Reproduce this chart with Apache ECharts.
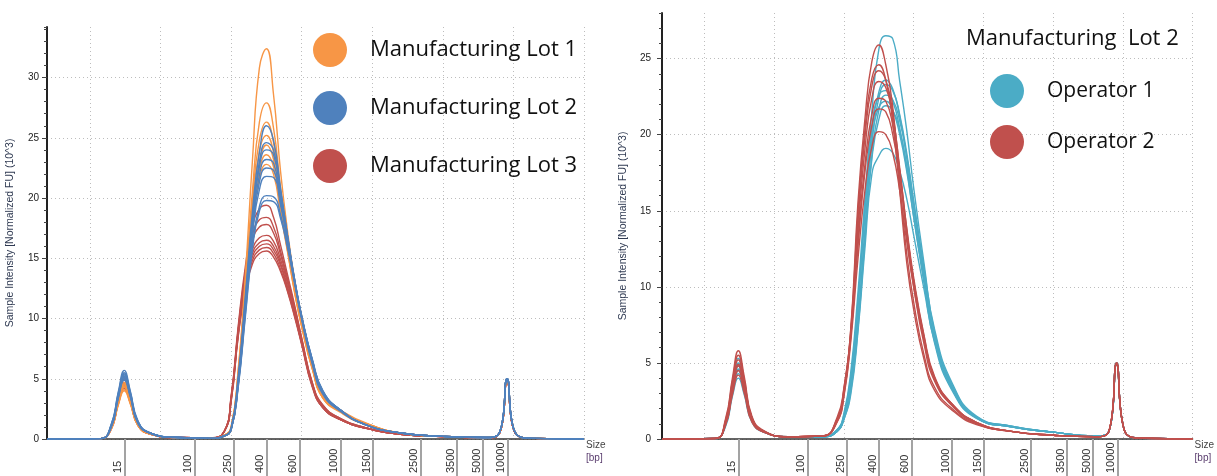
<!DOCTYPE html>
<html><head><meta charset="utf-8">
<script src="https://cdn.jsdelivr.net/npm/echarts@6/dist/echarts.min.js"></script>
<style>html,body{margin:0;padding:0;background:#fff}#c{width:1217px;height:476px}</style>
</head><body><div id="c"></div>
<script>
// migration position (arbitrary run units; vertical grid lines every 10)
const xs = [-6.1, 1.5, 3.0, 4.0, 4.85, 5.7, 6.8, 8.5, 12, 17, 19, 20, 21, 22, 23, 24, 25, 26, 27, 28, 29, 30, 31.5, 33, 35.5, 39, 44, 50, 56, 58, 59.1, 60.2, 63, 70];
// ladder sizes and where they sit on the run axis
const sizeLabels = ['15','100','250','400','600','1000','1500','2500','3500','5000','10000'];
const sizePos = [4.85, 14.8, 20.4, 25.0, 29.7, 35.5, 40.1, 46.8, 52.0, 55.7, 59.2];
const gridPos = [0, 10, 20, 30, 40, 50, 60, 70];
const leftYTicks = [0, 5, 10, 15, 20, 25, 30];
const rightYTicks = [0, 5, 10, 15, 20, 25];

// Left panel: Manufacturing Lot 1 (orange)
const lot1 = [
 [0,0.03,0.9,3.0,4.3,3.1,1.2,0.45,0.12,0.05,0.3,1.0,5.8,13.5,23.0,30.8,32.4,28.6,22.2,17.2,13.2,10.2,6.4,3.8,2.4,1.3,0.5,0.22,0.12,0.5,4.9,0.6,0.05,0],
 [0,0.03,1.0,3.2,4.6,3.3,1.2,0.45,0.12,0.05,0.3,1.0,5.6,12.8,20.5,26.3,27.9,25.8,20.8,16.6,12.8,9.8,6.1,3.6,2.3,1.25,0.5,0.22,0.12,0.5,4.9,0.6,0.05,0],
 [0,0.03,0.9,2.9,4.1,3.0,1.1,0.4,0.12,0.05,0.25,0.9,5.4,12.4,19.8,24.8,26.3,24.6,20.2,16.2,12.6,9.6,6.0,3.5,2.3,1.3,0.5,0.22,0.12,0.5,5.0,0.6,0.05,0],
 [0,0.03,1.0,3.3,4.7,3.4,1.3,0.45,0.12,0.05,0.3,1.0,5.3,12.2,19.2,23.9,25.2,23.8,19.6,15.9,12.4,9.5,5.9,3.5,2.4,1.35,0.5,0.22,0.12,0.5,4.8,0.6,0.05,0],
 [0,0.03,0.8,2.8,4.0,2.9,1.1,0.4,0.12,0.05,0.25,0.8,5.0,11.8,18.6,23.0,24.4,23.2,19.4,15.8,12.3,9.4,5.9,3.4,2.3,1.3,0.5,0.22,0.12,0.45,4.9,0.6,0.05,0],
 [0,0.03,0.9,3.1,4.4,3.2,1.2,0.45,0.12,0.05,0.25,0.8,4.8,11.5,18.0,22.3,23.6,22.6,19.0,15.6,12.2,9.3,5.8,3.4,2.2,1.2,0.5,0.22,0.12,0.5,5.0,0.6,0.05,0],
 [0,0.03,1.0,3.2,4.5,3.2,1.2,0.45,0.12,0.05,0.25,0.8,4.6,11.2,17.5,21.6,22.8,22.0,18.7,15.5,12.1,9.3,5.8,3.4,2.3,1.3,0.5,0.22,0.12,0.5,4.9,0.6,0.05,0]
];
// Manufacturing Lot 2 (blue)
const lot2 = [
 [0,0.03,1.2,3.9,5.7,4.0,1.5,0.5,0.14,0.05,0.25,0.9,5.2,11.8,18.8,23.8,26.0,24.8,20.8,16.8,13.0,9.9,6.2,3.7,2.3,1.2,0.5,0.22,0.12,0.5,5.0,0.6,0.05,0],
 [0,0.03,1.1,3.7,5.4,3.8,1.4,0.5,0.14,0.05,0.25,0.9,5.0,11.5,18.2,23.0,24.6,24.0,20.6,16.8,13.1,10.0,6.3,3.8,2.3,1.2,0.5,0.22,0.12,0.5,5.0,0.6,0.05,0],
 [0,0.03,1.1,3.6,5.2,3.7,1.4,0.5,0.14,0.05,0.25,0.8,4.9,11.3,17.9,22.6,24.0,23.6,20.4,16.8,13.2,10.1,6.4,3.8,2.4,1.2,0.5,0.22,0.12,0.5,5.0,0.6,0.05,0],
 [0,0.03,1.0,3.4,5.0,3.6,1.3,0.5,0.13,0.05,0.25,0.8,4.8,11.0,17.5,21.9,23.2,22.9,20.0,16.6,13.2,10.2,6.5,3.9,2.4,1.2,0.5,0.22,0.12,0.5,5.0,0.6,0.05,0],
 [0,0.03,1.2,3.8,5.5,3.9,1.4,0.5,0.14,0.05,0.25,0.8,4.6,10.8,17.1,21.3,22.5,22.3,19.7,16.5,13.1,10.1,6.5,3.9,2.4,1.2,0.5,0.22,0.12,0.5,5.0,0.6,0.05,0],
 [0,0.03,1.0,3.5,5.1,3.6,1.3,0.5,0.13,0.05,0.25,0.8,4.5,10.6,16.8,20.7,21.8,21.7,19.4,16.4,13.1,10.2,6.6,4.0,2.4,1.2,0.5,0.22,0.12,0.5,5.0,0.6,0.05,0],
 [0,0.03,1.1,3.6,5.3,3.7,1.4,0.5,0.14,0.05,0.25,0.8,4.4,10.3,16.0,19.3,20.2,20.1,18.6,16.0,13.0,10.1,6.6,4.0,2.4,1.2,0.5,0.22,0.12,0.5,5.0,0.6,0.05,0],
 [0,0.03,1.0,3.4,4.9,3.5,1.3,0.5,0.13,0.05,0.25,0.8,4.3,10.1,15.7,18.9,19.8,19.7,18.3,15.8,12.9,10.0,6.5,3.9,2.4,1.2,0.5,0.22,0.12,0.5,5.0,0.6,0.05,0]
];
// Manufacturing Lot 3 (red)
const lot3 = [
 [0,0.03,1.0,3.3,4.9,3.5,1.3,0.45,0.13,0.1,0.6,3.6,9.4,14.3,17.6,19.1,19.4,18.4,16.1,13.6,11.1,8.4,4.7,2.8,1.7,0.95,0.4,0.2,0.1,0.45,4.8,0.55,0.05,0],
 [0,0.03,0.9,3.1,4.6,3.3,1.2,0.45,0.13,0.1,0.6,3.5,9.2,13.9,16.9,18.2,18.4,17.6,15.6,13.3,10.9,8.3,4.6,2.8,1.7,0.95,0.4,0.2,0.1,0.45,4.8,0.55,0.05,0],
 [0,0.03,1.0,3.4,5.0,3.5,1.3,0.45,0.13,0.1,0.6,3.4,9.0,13.6,16.4,17.6,17.8,17.1,15.3,13.1,10.8,8.2,4.6,2.7,1.7,0.95,0.4,0.2,0.1,0.45,4.8,0.55,0.05,0],
 [0,0.03,0.9,3.0,4.4,3.1,1.2,0.4,0.12,0.1,0.6,3.4,9.0,13.3,15.7,16.7,16.9,16.4,14.9,12.9,10.6,8.1,4.5,2.7,1.6,0.9,0.4,0.2,0.1,0.45,4.8,0.55,0.05,0],
 [0,0.03,1.0,3.2,4.7,3.3,1.2,0.45,0.13,0.1,0.6,3.3,8.8,13.0,15.4,16.3,16.5,16.0,14.6,12.6,10.4,8.0,4.5,2.7,1.6,0.9,0.4,0.2,0.1,0.45,4.8,0.55,0.05,0],
 [0,0.03,0.9,3.1,4.5,3.2,1.2,0.45,0.13,0.1,0.6,3.3,8.8,12.8,15.1,16.0,16.2,15.7,14.4,12.5,10.3,7.9,4.4,2.6,1.6,0.9,0.4,0.2,0.1,0.45,4.8,0.55,0.05,0],
 [0,0.03,0.8,2.9,4.2,3.0,1.1,0.4,0.12,0.1,0.6,3.2,8.6,12.5,14.8,15.7,15.9,15.4,14.1,12.3,10.2,7.9,4.4,2.6,1.6,0.9,0.4,0.2,0.1,0.45,4.8,0.55,0.05,0],
 [0,0.03,0.9,3.0,4.4,3.1,1.2,0.4,0.12,0.1,0.6,3.1,8.5,12.3,14.5,15.4,15.6,15.1,13.9,12.2,10.1,7.8,4.3,2.6,1.6,0.9,0.4,0.2,0.1,0.45,4.8,0.55,0.05,0]
];
// Right panel: Manufacturing Lot 2, Operator 1 (cyan)
const op1 = [
 [0,0.03,1.0,3.5,5.0,3.6,1.4,0.5,0.15,0.15,0.5,1.4,3.8,8.6,15.5,21.5,25.6,26.5,26.3,23.5,20.3,16.5,11.5,7.0,3.4,1.4,0.85,0.45,0.2,0.5,5.0,0.6,0.05,0],
 [0,0.03,1.1,3.7,5.3,3.8,1.4,0.5,0.15,0.15,0.6,1.6,4.2,9.0,15.0,20.2,22.8,23.6,23.0,21.2,18.5,15.2,10.6,6.6,3.3,1.4,0.8,0.45,0.2,0.5,5.0,0.6,0.05,0],
 [0,0.03,0.9,3.2,4.6,3.3,1.3,0.5,0.15,0.15,0.5,1.4,3.6,7.8,13.8,19.4,22.4,23.3,22.9,21.3,18.8,15.6,11.0,6.9,3.5,1.4,0.8,0.45,0.2,0.5,4.9,0.6,0.05,0],
 [0,0.03,1.0,3.4,4.9,3.5,1.3,0.5,0.15,0.15,0.6,1.7,4.5,9.6,15.6,20.5,22.6,22.9,22.2,20.4,17.8,14.6,10.2,6.3,3.2,1.35,0.8,0.45,0.2,0.5,5.0,0.6,0.05,0],
 [0,0.03,0.9,3.0,4.3,3.1,1.2,0.45,0.15,0.15,0.5,1.3,3.2,7.2,13.0,18.6,21.6,22.6,22.3,20.9,18.6,15.6,11.2,7.2,3.7,1.5,0.85,0.45,0.2,0.5,4.9,0.6,0.05,0],
 [0,0.03,1.0,3.3,4.8,3.4,1.3,0.5,0.15,0.15,0.6,1.5,4.0,8.8,14.6,19.6,21.8,22.2,21.6,20.0,17.6,14.6,10.4,6.5,3.3,1.4,0.8,0.45,0.2,0.5,5.0,0.6,0.05,0],
 [0,0.03,0.8,2.8,4.0,2.9,1.1,0.45,0.15,0.15,0.5,1.4,3.4,7.5,13.2,18.4,21.0,21.9,21.6,20.3,18.0,15.2,10.9,7.0,3.6,1.45,0.85,0.45,0.2,0.5,4.9,0.6,0.05,0],
 [0,0.03,0.9,3.1,4.5,3.2,1.2,0.45,0.15,0.15,0.5,1.3,3.0,7.0,12.5,17.4,18.6,19.1,18.8,17.6,15.8,13.4,9.8,6.4,3.3,1.4,0.8,0.45,0.2,0.5,5.0,0.6,0.05,0]
];
// Operator 2 (red)
const op2 = [
 [0,0.03,1.3,4.0,5.8,4.1,1.5,0.55,0.15,0.2,1.3,3.3,7.4,15.5,21.0,24.8,25.9,24.6,21.8,16.8,12.2,9.0,5.5,3.4,2.0,1.0,0.5,0.25,0.15,0.5,5.0,0.6,0.05,0],
 [0,0.03,1.2,3.8,5.5,3.9,1.4,0.5,0.15,0.2,1.4,3.4,7.3,14.8,20.3,23.7,24.6,23.6,20.8,16.3,11.6,8.5,5.2,3.2,1.9,0.95,0.5,0.25,0.15,0.5,4.9,0.6,0.05,0],
 [0,0.03,1.0,3.4,4.9,3.5,1.3,0.5,0.15,0.2,1.2,3.1,7.0,14.2,19.8,23.2,24.2,23.6,21.4,17.6,13.4,10.0,6.2,3.8,2.2,1.05,0.5,0.25,0.15,0.5,5.0,0.6,0.05,0],
 [0,0.03,1.1,3.6,5.2,3.7,1.4,0.5,0.15,0.2,1.3,3.2,7.1,13.6,19.0,22.4,23.5,23.1,21.2,17.8,13.8,10.4,6.6,4.0,2.3,1.1,0.5,0.25,0.15,0.5,4.9,0.6,0.05,0],
 [0,0.03,0.9,3.1,4.5,3.2,1.2,0.45,0.15,0.2,1.1,2.9,6.8,13.0,18.0,21.3,22.4,22.2,20.6,17.6,13.9,10.6,6.8,4.1,2.3,1.1,0.5,0.25,0.15,0.5,5.0,0.6,0.05,0],
 [0,0.03,1.0,3.3,4.8,3.4,1.3,0.5,0.15,0.2,1.2,3.0,6.9,12.6,17.5,20.6,21.7,21.5,20.0,17.2,13.6,10.4,6.7,4.0,2.3,1.1,0.5,0.25,0.15,0.5,4.9,0.6,0.05,0],
 [0,0.03,0.9,2.9,4.2,3.0,1.1,0.45,0.15,0.2,1.1,2.8,6.5,11.8,16.3,19.2,20.2,20.0,18.8,16.3,13.0,10.0,6.5,3.9,2.2,1.05,0.5,0.25,0.15,0.5,5.0,0.6,0.05,0]
];

const C = { orange:'#F79646', blue:'#4F81BD', red:'#C0504D', cyan:'#4BACC6' };
const LABEL_SHIFT = 0.9;
const labelVals = sizePos.map(p => +(p - LABEL_SHIFT).toFixed(3));
const yName = 'Sample Intensity [Normalized FU] (10^3)';

function mainX(gi) {
  return {
    type:'value', gridIndex:gi, position:'bottom', min:-6.1, max:70,
    axisLine:{show:true, onZero:false, lineStyle:{color:'#333', width:1.5}},
    axisTick:{show:false, customValues:gridPos},
    axisLabel:{show:false},
    splitLine:{show:true, lineStyle:{color:'#bdbdbd', type:[1,3], width:1}},
    name:'{a|Size}\n{b|[bp]}', nameLocation:'end', nameGap:2,
    nameTextStyle:{align:'left', verticalAlign:'top', rich:{
      a:{fontSize:10, color:'#444', fontFamily:'Liberation Sans', lineHeight:13},
      b:{fontSize:10, color:'#5a3d6e', fontFamily:'Liberation Sans', lineHeight:13}}}
  };
}
function ladderX(gi) {
  return {
    type:'value', gridIndex:gi, position:'bottom', min:-6.1, max:70,
    axisLine:{show:false, onZero:false},
    axisTick:{show:true, customValues:sizePos, length:40, inside:false, lineStyle:{color:'#a3a3a3', width:2}},
    axisLabel:{show:true, customValues:labelVals, rotate:90, align:'left', margin:34,
      fontSize:11, color:'#333', fontFamily:'Liberation Sans', hideOverlap:false,
      formatter:(v)=>{ const i = labelVals.findIndex(p=>Math.abs(p-v)<0.01); return i>=0?sizeLabels[i]:''; }},
    splitLine:{show:false}
  };
}
function minorY(gi, max) {
  return {
    type:'value', gridIndex:gi, position:'left', min:0, max:max, interval:1,
    axisLine:{show:true, onZero:false, lineStyle:{color:'#222', width:2}},
    axisTick:{show:true, length:3, lineStyle:{color:'#444', width:1}},
    axisLabel:{show:false}, splitLine:{show:false}
  };
}
function majorY(gi, max, ticks, margin, gap) {
  return {
    type:'value', gridIndex:gi, position:'left', min:0, max:max,
    axisLine:{show:false, onZero:false},
    axisTick:{show:true, customValues:ticks, length:5, lineStyle:{color:'#444', width:1}},
    axisLabel:{show:true, customValues:ticks, fontSize:10, color:'#222', margin:margin, fontFamily:'Liberation Sans'},
    splitLine:{show:true, lineStyle:{color:'#bdbdbd', type:[1,3], width:1}},
    name:yName, nameLocation:'middle', nameGap:gap,
    nameTextStyle:{fontSize:10.5, color:'#2f3a52', fontFamily:'Liberation Sans'}
  };
}
function traces(arr, name, color, gi) {
  return arr.map(vals => ({
    type:'line', name:name, xAxisIndex:gi*2, yAxisIndex:gi*2,
    data: xs.map((x,i)=>[x, vals[i]]),
    showSymbol:false, symbol:'circle', smooth:0.5, silent:true,
    lineStyle:{color:color, width:1.4}, itemStyle:{color:color}, animation:false
  }));
}

const option = {
  backgroundColor:'#fff',
  animation:false,
  title:{text:'Manufacturing  Lot 2', left:966, top:27, padding:0,
    textStyle:{fontSize:22, fontWeight:'normal', color:'#111', fontFamily:'Open Sans', lineHeight:24}},
  legend:[
    {data:['Manufacturing Lot 1','Manufacturing Lot 2','Manufacturing Lot 3'], orient:'vertical',
     left:313, top:33, padding:0, itemWidth:34, itemHeight:34, itemGap:24, icon:'circle', selectedMode:false,
     textStyle:{fontSize:22, color:'#111', fontFamily:'Open Sans', padding:[0,0,0,18]}},
    {data:['Operator 1','Operator 2'], orient:'vertical',
     left:990, top:74, padding:0, itemWidth:34, itemHeight:34, itemGap:17, icon:'circle', selectedMode:false,
     textStyle:{fontSize:21, color:'#111', fontFamily:'Open Sans', padding:[0,0,0,18]}}
  ],
  grid:[
    {left:47, top:27, width:537, height:417},
    {left:662, top:13, width:534, height:433}
  ],
  xAxis:[mainX(0), ladderX(0), mainX(1), ladderX(1)],
  yAxis:[minorY(0,34.2), majorY(0,34.2,leftYTicks,8,31), minorY(1,28), majorY(1,28,rightYTicks,11,33)],
  series:[].concat(
    traces(lot3,'Manufacturing Lot 3',C.red,0),
    traces(lot1,'Manufacturing Lot 1',C.orange,0),
    traces(lot2,'Manufacturing Lot 2',C.blue,0),
    traces(op1,'Operator 1',C.cyan,1),
    traces(op2,'Operator 2',C.red,1)
  )
};
const chart = echarts.init(document.getElementById('c'), null, {renderer:'canvas'});
chart.setOption(option);
</script></body></html>
